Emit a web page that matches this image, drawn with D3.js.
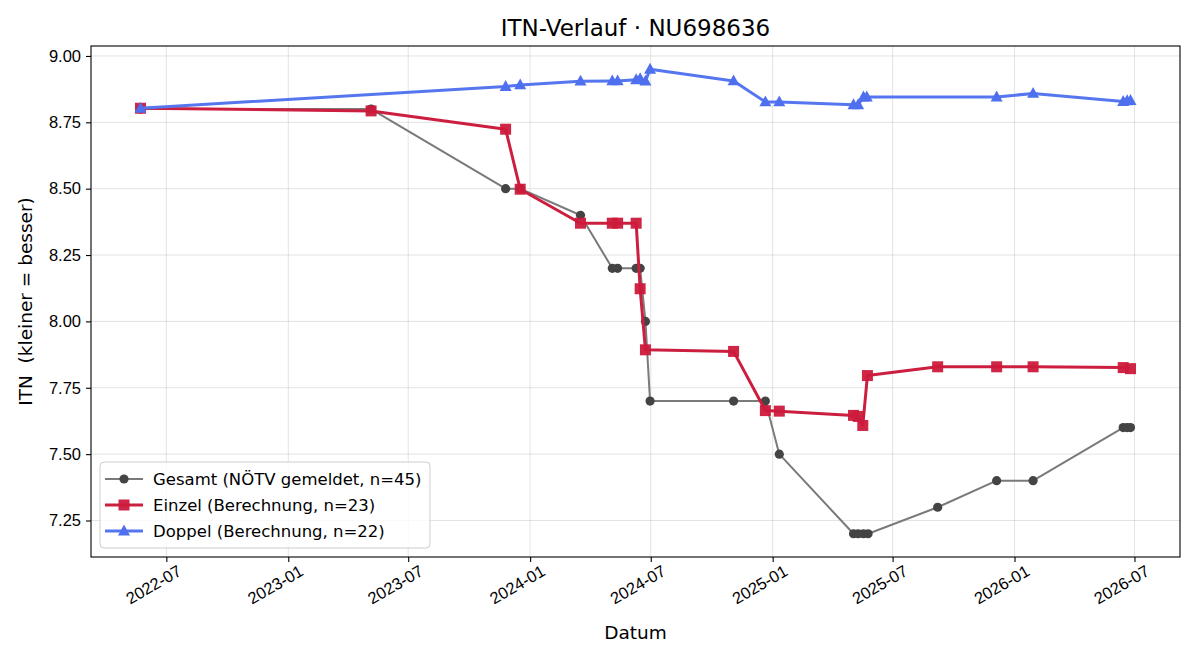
<!DOCTYPE html>
<html>
<head>
<meta charset="utf-8">
<script src="https://cdn.jsdelivr.net/npm/d3@7"></script>
<style>
  html, body { margin: 0; padding: 0; background: #fff; }
  svg { font-family: "DejaVu Sans", sans-serif; display: block; }
</style>
</head>
<body>
<div id="chart"></div>
<script>
// Gesamt (NÖTV gemeldet)
const gesamtDates = ["2022-05-23", "2023-05-06", "2023-11-25", "2023-12-17", "2024-03-17", "2024-05-04",
  "2024-05-12", "2024-06-09", "2024-06-15", "2024-06-23", "2024-06-30", "2024-11-03", "2024-12-21",
  "2025-01-11", "2025-05-03", "2025-05-10", "2025-05-18", "2025-05-25", "2025-09-07", "2025-12-05",
  "2026-01-29", "2026-06-14", "2026-06-20", "2026-06-25"];
const gesamtValues = [8.80, 8.80, 8.50, 8.50, 8.40, 8.20, 8.20, 8.20, 8.20, 8.00, 7.70, 7.70, 7.70,
  7.50, 7.20, 7.20, 7.20, 7.20, 7.30, 7.40, 7.40, 7.60, 7.60, 7.60];

// Einzel (Berechnung)
const einzelDates = ["2022-05-23", "2023-05-06", "2023-11-25", "2023-12-17", "2024-03-17", "2024-05-04",
  "2024-05-12", "2024-06-09", "2024-06-15", "2024-06-23", "2024-11-03", "2024-12-21", "2025-01-11",
  "2025-05-03", "2025-05-10", "2025-05-17", "2025-05-24", "2025-09-07", "2025-12-05", "2026-01-29",
  "2026-06-14", "2026-06-25"];
const einzelValues = [8.803, 8.793, 8.724, 8.498, 8.370, 8.370, 8.370, 8.370, 8.123, 7.893, 7.887,
  7.664, 7.662, 7.646, 7.642, 7.608, 7.796, 7.829, 7.829, 7.829, 7.826, 7.822];

// Doppel (Berechnung)
const doppelDates = ["2022-05-23", "2023-11-25", "2023-12-17", "2024-03-17", "2024-05-04", "2024-05-12",
  "2024-06-09", "2024-06-15", "2024-06-23", "2024-06-30", "2024-11-03", "2024-12-21", "2025-01-11",
  "2025-05-03", "2025-05-10", "2025-05-18", "2025-05-23", "2025-12-05", "2026-01-29", "2026-06-14",
  "2026-06-20", "2026-06-25"];
const doppelValues = [8.803, 8.885, 8.891, 8.905, 8.906, 8.906, 8.910, 8.914, 8.905, 8.950, 8.906,
  8.827, 8.827, 8.816, 8.816, 8.845, 8.845, 8.845, 8.859, 8.828, 8.831, 8.832];

const yTicks = [7.25, 7.50, 7.75, 8.00, 8.25, 8.50, 8.75, 9.00];
const legendLabels = ["Gesamt (NÖTV gemeldet, n=45)", "Einzel (Berechnung, n=23)", "Doppel (Berechnung, n=22)"];

const parse = d3.timeParse("%Y-%m-%d");
const series = [
  { name: legendLabels[0], dates: gesamtDates.map(parse), values: gesamtValues,
    line: "#7a7a7a", fill: "#444444", width: 2, marker: "circle" },
  { name: legendLabels[1], dates: einzelDates.map(parse), values: einzelValues,
    line: "#cc1f3f", fill: "#cc1a3c", width: 3, marker: "square" },
  { name: legendLabels[2], dates: doppelDates.map(parse), values: doppelValues,
    line: "#5576ef", fill: "#4f70ee", width: 3, marker: "triangle" }
];

const W = 1200, H = 660;
const margin = { top: 46, right: 20, bottom: 103, left: 91 };
const width = W - margin.left - margin.right;
const height = H - margin.top - margin.bottom;

const svg = d3.select("#chart").append("svg")
  .attr("width", W)
  .attr("height", H);

// 5% padding on both axes, like the original
const allDates = series.flatMap(s => s.dates);
const allValues = series.flatMap(s => s.values);
const [dMin, dMax] = d3.extent(allDates);
const dPad = (dMax - dMin) * 0.05;
const [vMin, vMax] = d3.extent(allValues);
const vPad = (vMax - vMin) * 0.05;

const x = d3.scaleTime()
  .domain([new Date(+dMin - dPad), new Date(+dMax + dPad)])
  .range([0, width]);
const y = d3.scaleLinear()
  .domain([vMin - vPad, vMax + vPad])
  .range([height, 0]);

const g = svg.append("g")
  .attr("transform", "translate(" + margin.left + "," + margin.top + ")");

const xTicks = x.ticks(d3.timeMonth.every(6));

// grid
g.append("g").selectAll("line")
  .data(xTicks)
  .enter().append("line")
  .attr("x1", d => x(d)).attr("x2", d => x(d))
  .attr("y1", 0).attr("y2", height)
  .attr("stroke", "#b0b0b0").attr("stroke-opacity", 0.35).attr("stroke-width", 1);
g.append("g").selectAll("line")
  .data(yTicks)
  .enter().append("line")
  .attr("x1", 0).attr("x2", width)
  .attr("y1", d => y(d)).attr("y2", d => y(d))
  .attr("stroke", "#b0b0b0").attr("stroke-opacity", 0.35).attr("stroke-width", 1);

// axes
const xAxis = g.append("g")
  .attr("transform", "translate(0," + height + ")")
  .call(d3.axisBottom(x).tickValues(xTicks).tickFormat(d3.timeFormat("%Y-%m")).tickSize(5).tickPadding(4));
xAxis.select(".domain").remove();
xAxis.selectAll("text")
  .attr("font-size", "16.5px")
  .attr("fill", "#000")
  .style("text-anchor", "end")
  .attr("dx", "0.3em")
  .attr("dy", "0.85em")
  .attr("transform", "rotate(-30)");

const yAxis = g.append("g")
  .call(d3.axisLeft(y).tickValues(yTicks).tickFormat(d3.format(".2f")).tickSize(5).tickPadding(5));
yAxis.select(".domain").remove();
yAxis.selectAll("text").attr("font-size", "16.5px").attr("fill", "#000");
g.selectAll(".tick line").attr("stroke", "#000").attr("stroke-width", 1.1);

// lines and markers
const line = d3.line()
  .x(d => x(d[0]))
  .y(d => y(d[1]));

function drawMarker(sel, type, fill) {
  if (type === "circle") {
    sel.append("circle").attr("r", 4.6).attr("fill", fill);
  } else if (type === "square") {
    sel.append("rect").attr("x", -5.5).attr("y", -5.5).attr("width", 11).attr("height", 11)
      .attr("fill", fill).attr("fill-opacity", 0.95);
  } else {
    sel.append("path").attr("d", "M0,-6.5L6,4.4L-6,4.4Z").attr("fill", fill);
  }
}

series.forEach(s => {
  const pts = s.dates.map((d, i) => [d, s.values[i]]);
  g.append("path")
    .datum(pts)
    .attr("fill", "none")
    .attr("stroke", s.line)
    .attr("stroke-width", s.width)
    .attr("stroke-linejoin", "round")
    .attr("d", line);
  const m = g.append("g").selectAll("g")
    .data(pts)
    .enter().append("g")
    .attr("transform", d => "translate(" + x(d[0]) + "," + y(d[1]) + ")");
  drawMarker(m, s.marker, s.fill);
});

// frame
g.append("rect")
  .attr("width", width).attr("height", height)
  .attr("fill", "none").attr("stroke", "#000").attr("stroke-width", 1.1);

// legend
const legend = g.append("g").attr("transform", "translate(9," + (height - 95) + ")");
legend.append("rect")
  .attr("width", 330).attr("height", 86).attr("rx", 4)
  .attr("fill", "#fff").attr("fill-opacity", 0.8)
  .attr("stroke", "#cccccc");
series.forEach((s, i) => {
  const row = legend.append("g").attr("transform", "translate(0," + (17 + i * 26) + ")");
  row.append("line").attr("x1", 5).attr("x2", 43)
    .attr("stroke", s.line).attr("stroke-width", s.width);
  drawMarker(row.append("g").attr("transform", "translate(24,0)"), s.marker, s.fill);
  row.append("text").attr("x", 53).attr("dy", "0.35em")
    .attr("font-size", "16.5px").text(s.name);
});

// title and axis labels
svg.append("text")
  .attr("x", margin.left + width / 2).attr("y", 36)
  .attr("text-anchor", "middle").attr("font-size", "23px")
  .text("ITN-Verlauf · NU698636");
svg.append("text")
  .attr("x", margin.left + width / 2).attr("y", 639)
  .attr("text-anchor", "middle").attr("font-size", "18.5px")
  .text("Datum");
svg.append("text")
  .attr("transform", "translate(32," + (margin.top + height / 2) + ") rotate(-90)")
  .attr("text-anchor", "middle").attr("font-size", "18.5px")
  .style("white-space", "pre")
  .text("ITN  (kleiner = besser)");
</script>
</body>
</html>
